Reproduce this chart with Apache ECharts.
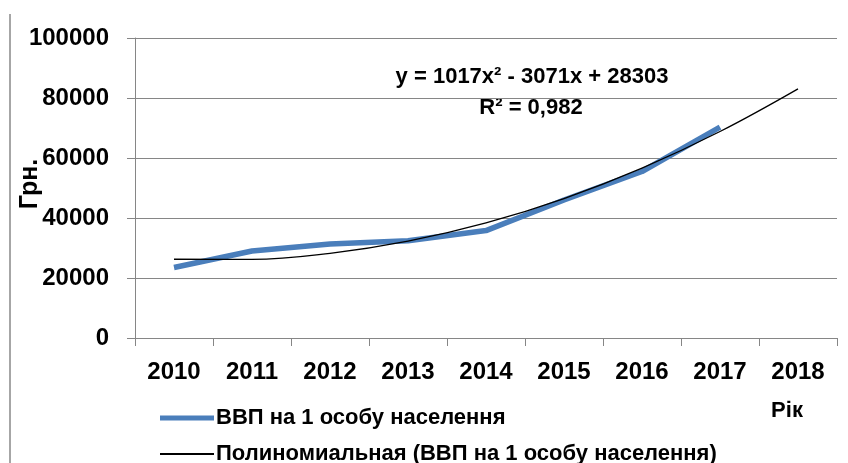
<!DOCTYPE html>
<html>
<head>
<meta charset="utf-8">
<script src="https://cdn.jsdelivr.net/npm/echarts@6/dist/echarts.min.js"></script>
<style>
  html, body { margin: 0; padding: 0; background: #fff; }
  #chart { width: 848px; height: 463px; }
</style>
</head>
<body>
<div id="chart"></div>
<script>
// роки
const years = ['2010', '2011', '2012', '2013', '2014', '2015', '2016', '2017', '2018']
// ВВП на 1 особу, грн
const gdpPerCapita = [23500, 29000, 31300, 32400, 35800, 46000, 55500, 70300, null]
// поліноміальний тренд (зчитано з кривої)
const trendValues = [26250, 26230, 28240, 32290, 38370, 46490, 56640, 68820, 83040]
const yTicks = { min: 0, max: 100000, interval: 20000 }

const FONT = "'Liberation Sans', Arial, sans-serif"
const gdpName = 'ВВП на 1 особу населення'
const trendName = 'Полиномиальная (ВВП на 1 особу населення)'

const legendText = {
  fontFamily: FONT,
  fontWeight: 'bold',
  fontSize: 22,
  color: '#000',
  padding: [0, 0, 0, -3],
}

const myChart = echarts.init(document.getElementById('chart'))
const option = {
  animation: false,
  grid: {
    left: 135,
    right: 11,
    top: 38,
    bottom: 125,
    outerBoundsMode: 'none',
  },
  legend: [
    {
      left: 155,
      top: 402,
      itemWidth: 54,
      itemHeight: 5,
      data: [{ name: gdpName, icon: 'rect' }],
      textStyle: legendText,
    },
    {
      left: 155,
      top: 438,
      itemWidth: 54,
      itemHeight: 2,
      data: [{ name: trendName, icon: 'rect' }],
      textStyle: legendText,
    },
  ],
  xAxis: {
    type: 'category',
    data: years,
    boundaryGap: true,
    axisLine: { lineStyle: { color: '#868686', width: 1 } },
    axisTick: { show: true, length: 8, lineStyle: { color: '#868686' } },
    axisLabel: {
      margin: 22,
      fontFamily: FONT,
      fontWeight: 'bold',
      fontSize: 24,
      color: '#000',
    },
  },
  yAxis: {
    type: 'value',
    min: yTicks.min,
    max: yTicks.max,
    interval: yTicks.interval,
    axisLine: { show: true, lineStyle: { color: '#868686', width: 1 } },
    axisTick: { show: true, length: 8, lineStyle: { color: '#868686' } },
    splitLine: { show: true, lineStyle: { color: '#868686', width: 1 } },
    axisLabel: {
      margin: 26,
      formatter: (v) => String(v),
      fontFamily: FONT,
      fontWeight: 'bold',
      fontSize: 24,
      color: '#000',
    },
  },
  graphic: [
    {
      type: 'line',
      shape: { x1: 10, y1: 14, x2: 10, y2: 463 },
      style: { stroke: '#a6a6a6', lineWidth: 2 },
    },
    {
      type: 'text',
      x: 30,
      y: 184,
      rotation: Math.PI / 2,
      style: {
        text: 'Грн.',
        fontFamily: FONT,
        fontWeight: 'bold',
        fontSize: 25,
        fill: '#000',
        align: 'center',
        verticalAlign: 'middle',
      },
    },
    {
      type: 'text',
      x: 532,
      y: 77,
      style: {
        text: 'y = 1017x² - 3071x + 28303',
        fontFamily: FONT,
        fontWeight: 'bold',
        fontSize: 22,
        fill: '#000',
        align: 'center',
        verticalAlign: 'middle',
      },
    },
    {
      type: 'text',
      x: 531,
      y: 108,
      style: {
        text: 'R² = 0,982',
        fontFamily: FONT,
        fontWeight: 'bold',
        fontSize: 22,
        fill: '#000',
        align: 'center',
        verticalAlign: 'middle',
      },
    },
    {
      type: 'text',
      x: 787,
      y: 411,
      style: {
        text: 'Рік',
        fontFamily: FONT,
        fontWeight: 'bold',
        fontSize: 22,
        fill: '#000',
        align: 'center',
        verticalAlign: 'middle',
      },
    },
  ],
  series: [
    {
      name: gdpName,
      type: 'line',
      data: gdpPerCapita,
      showSymbol: false,
      symbol: 'none',
      lineStyle: { color: '#4a7ebb', width: 5.5 },
      itemStyle: { color: '#4a7ebb' },
      z: 2,
    },
    {
      name: trendName,
      type: 'line',
      data: trendValues,
      smooth: 0.4,
      showSymbol: false,
      symbol: 'none',
      lineStyle: { color: '#000', width: 1.3 },
      itemStyle: { color: '#000' },
      z: 3,
    },
  ],
}
myChart.setOption(option)
</script>
</body>
</html>
